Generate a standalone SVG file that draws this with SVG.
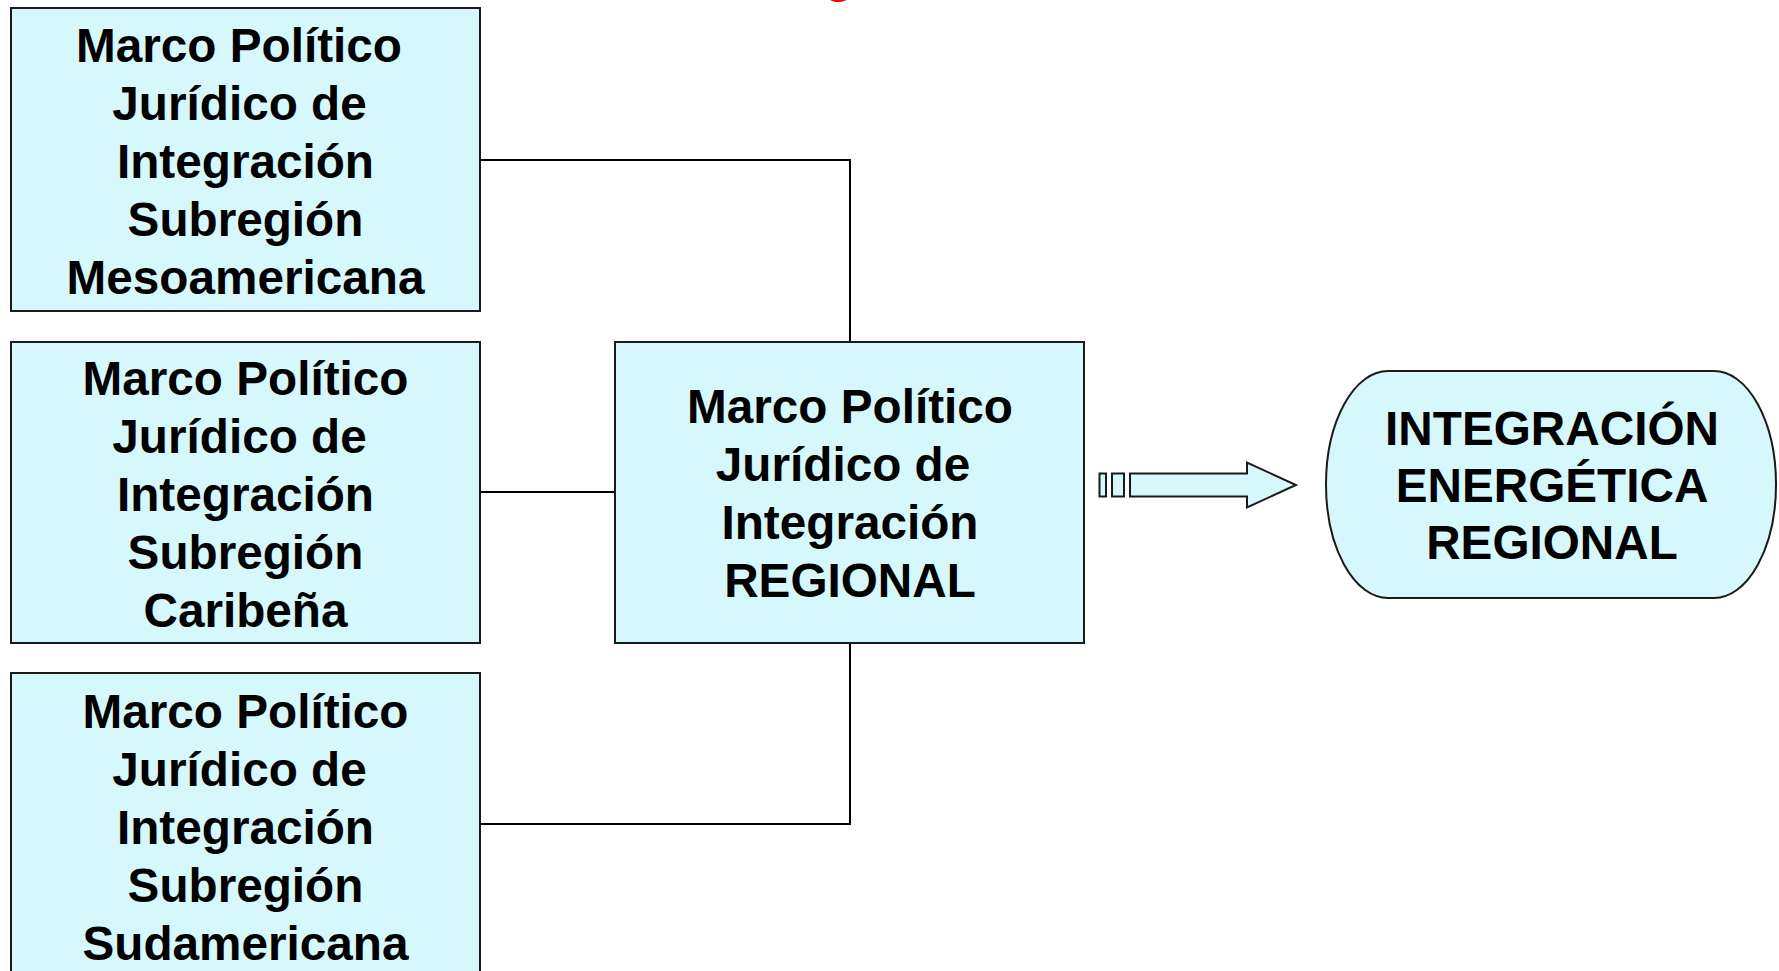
<svg xmlns="http://www.w3.org/2000/svg" width="1779" height="971" viewBox="0 0 1779 971">
<style>
.box{fill:#D6F8FC;stroke:#1a1a1a;stroke-width:2}
.t{font-family:"Liberation Sans",Arial,sans-serif;font-weight:bold;font-size:47.7px;fill:#000;text-anchor:middle}
.c{fill:none;stroke:#000;stroke-width:2}
</style>
<rect width="1779" height="971" fill="#fff"/>
<text x="839" y="-8" style="font-family:'Liberation Sans',Arial,sans-serif;font-weight:bold;font-size:48px;fill:#ff0000;text-anchor:middle">g</text>
<g id="connectors">
<polyline class="c" points="480,160 850,160 850,342"/>
<line class="c" x1="480" y1="492" x2="615" y2="492"/>
<polyline class="c" points="480,824 850,824 850,643"/>
</g>
<g id="meso">
<rect class="box" x="11" y="8" width="469" height="303"/>
<text class="t"><tspan x="239" y="62">Marco Político</tspan><tspan x="239.5" y="120">Jurídico de</tspan><tspan x="245.5" y="178">Integración</tspan><tspan x="245.5" y="236">Subregión</tspan><tspan x="245.5" y="294">Mesoamericana</tspan></text>
</g>
<g id="caribe">
<rect class="box" x="11" y="342" width="469" height="301"/>
<text class="t"><tspan x="245.5" y="395">Marco Político</tspan><tspan x="239.5" y="453">Jurídico de</tspan><tspan x="245.5" y="511">Integración</tspan><tspan x="245.5" y="569">Subregión</tspan><tspan x="245.5" y="627">Caribeña</tspan></text>
</g>
<g id="sud">
<rect class="box" x="11" y="673" width="469" height="310"/>
<text class="t"><tspan x="245.5" y="728">Marco Político</tspan><tspan x="239.5" y="786">Jurídico de</tspan><tspan x="245.5" y="844">Integración</tspan><tspan x="245.5" y="902">Subregión</tspan><tspan x="245.5" y="960">Sudamericana</tspan></text>
</g>
<g id="regional">
<rect class="box" x="615" y="342" width="469" height="301"/>
<text class="t"><tspan x="850" y="423">Marco Político</tspan><tspan x="843" y="481">Jurídico de</tspan><tspan x="850" y="539">Integración</tspan><tspan x="850" y="597">REGIONAL</tspan></text>
</g>
<g id="arrow">
<rect class="box" x="1099.5" y="473.5" width="6.5" height="23"/>
<rect class="box" x="1112" y="473.5" width="12" height="23"/>
<path class="box" d="M1130,473.5 H1247 V462.5 L1296,485 L1247,507.5 V496.5 H1130 Z"/>
</g>
<g id="energetica">
<rect class="box" x="1326" y="371" width="450" height="227" rx="62" ry="113.5"/>
<text class="t"><tspan x="1552" y="445">INTEGRACIÓN</tspan><tspan x="1552" y="502">ENERGÉTICA</tspan><tspan x="1552" y="559">REGIONAL</tspan></text>
</g>
</svg>
